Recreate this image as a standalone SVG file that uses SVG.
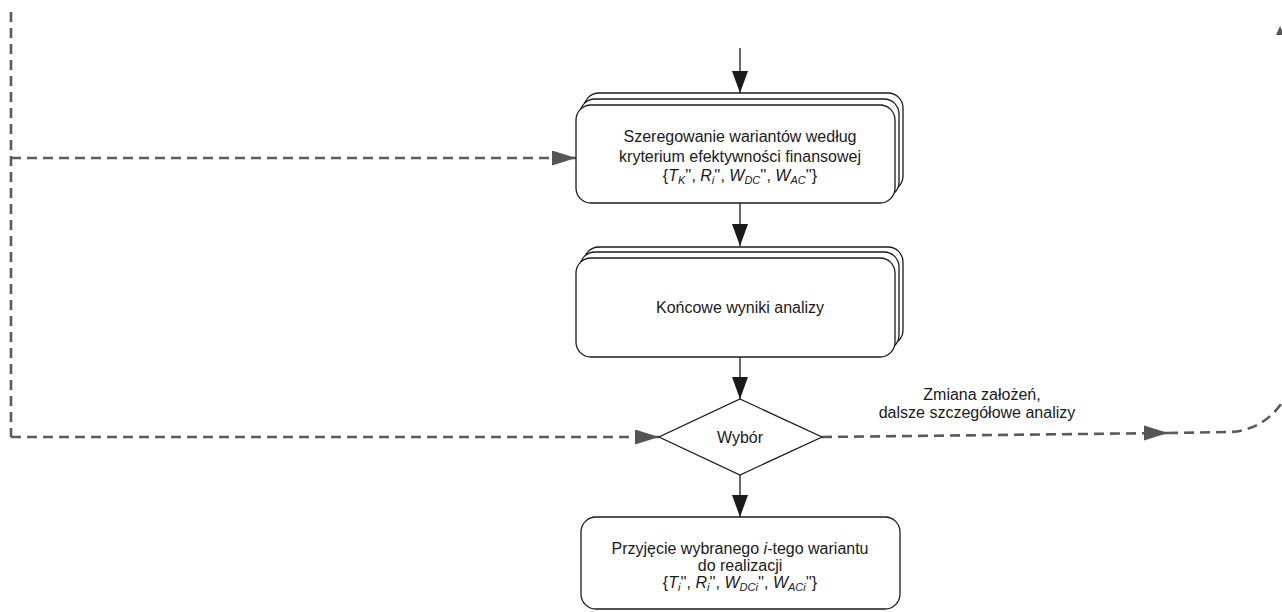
<svg xmlns="http://www.w3.org/2000/svg" width="1282" height="612" viewBox="0 0 1282 612">
<style>
.box{fill:#fff;stroke:#1a1a1a;stroke-width:1.3}
.t{font-family:"Liberation Sans",Arial,sans-serif;font-size:16px;fill:#1a1a1a;text-anchor:middle}
.s{font-size:11px}
.flow{stroke:#1a1a1a;stroke-width:1.3;fill:none}
.dash{stroke:#5a5a5a;stroke-width:2.6;fill:none;stroke-dasharray:10 6}
</style>
<defs>
<marker id="ab" viewBox="0 0 22 16" refX="22" refY="8" markerWidth="22" markerHeight="16" markerUnits="userSpaceOnUse" orient="auto">
<path d="M0,0 L22,8 L0,16 Z" fill="#1a1a1a"/>
</marker>
<marker id="ag" viewBox="0 0 24 15" refX="24" refY="7.5" markerWidth="24" markerHeight="15" markerUnits="userSpaceOnUse" orient="auto">
<path d="M0,0 L24,7.5 L0,15 Z" fill="#555"/>
</marker>
</defs>
<g id="connectors">
<path class="flow" d="M740,48 V93" marker-end="url(#ab)"/>
<path class="flow" d="M740,203 V246" marker-end="url(#ab)"/>
<path class="flow" d="M740,357 V399" marker-end="url(#ab)"/>
<path class="flow" d="M740,475 V517" marker-end="url(#ab)"/>
<path class="dash" d="M11,12 V437"/>
<path class="dash" d="M11,158 H576" marker-end="url(#ag)"/>
<path class="dash" d="M11,437 H659" marker-end="url(#ag)"/>
<path class="dash" d="M822,437 L1168,433"/>
<path d="M1144,425.5 L1168,433 L1144,440.5 Z" fill="#555"/>
<path class="dash" d="M1168,433 L1230,432 C1252,431 1272,420 1285,398"/>
<path d="M1276,35 L1280,26 L1284,35 Z" fill="#555"/>
</g>
<g id="node-szeregowanie">
<rect class="box" x="584" y="93" width="319" height="98" rx="15"/>
<rect class="box" x="580" y="99" width="319" height="98" rx="15"/>
<rect class="box" x="576" y="105" width="319" height="98" rx="15"/>
<text class="t" x="740" y="142">Szeregowanie wariantów według</text>
<text class="t" x="740" y="162">kryterium efektywności finansowej</text>
<text class="t" x="740" y="181">{<tspan font-style="italic">T</tspan><tspan class="s" font-style="italic" dy="3">K</tspan><tspan dy="-3">'', </tspan><tspan font-style="italic">R</tspan><tspan class="s" font-style="italic" dy="3">i</tspan><tspan dy="-3">'', </tspan><tspan font-style="italic">W</tspan><tspan class="s" font-style="italic" dy="3">DC</tspan><tspan dy="-3">'', </tspan><tspan font-style="italic">W</tspan><tspan class="s" font-style="italic" dy="3">AC</tspan><tspan dy="-3">''}</tspan></text>
</g>
<g id="node-wyniki">
<rect class="box" x="584" y="247" width="319" height="98" rx="15"/>
<rect class="box" x="580" y="252" width="319" height="98" rx="15"/>
<rect class="box" x="576" y="258" width="319" height="99" rx="15"/>
<text class="t" x="740" y="313">Końcowe wyniki analizy</text>
</g>
<g id="node-wybor">
<path class="box" d="M740,399 L822,437 L740,475 L659,437 Z"/>
<text class="t" x="740" y="443">Wybór</text>
</g>
<g id="node-przyjecie">
<rect class="box" x="581" y="517" width="319" height="92" rx="15"/>
<text class="t" x="740" y="554">Przyjęcie wybranego <tspan font-style="italic">i</tspan>-tego wariantu</text>
<text class="t" x="740" y="571">do realizacji</text>
<text class="t" x="740" y="588">{<tspan font-style="italic">T</tspan><tspan class="s" font-style="italic" dy="3">i</tspan><tspan dy="-3">'', </tspan><tspan font-style="italic">R</tspan><tspan class="s" font-style="italic" dy="3">i</tspan><tspan dy="-3">'', </tspan><tspan font-style="italic">W</tspan><tspan class="s" font-style="italic" dy="3">DCi</tspan><tspan dy="-3">'', </tspan><tspan font-style="italic">W</tspan><tspan class="s" font-style="italic" dy="3">ACi</tspan><tspan dy="-3">''}</tspan></text>
</g>
<g id="label-zmiana">
<text class="t" x="982" y="400">Zmiana założeń,</text>
<text class="t" x="977" y="418">dalsze szczegółowe analizy</text>
</g>
</svg>
